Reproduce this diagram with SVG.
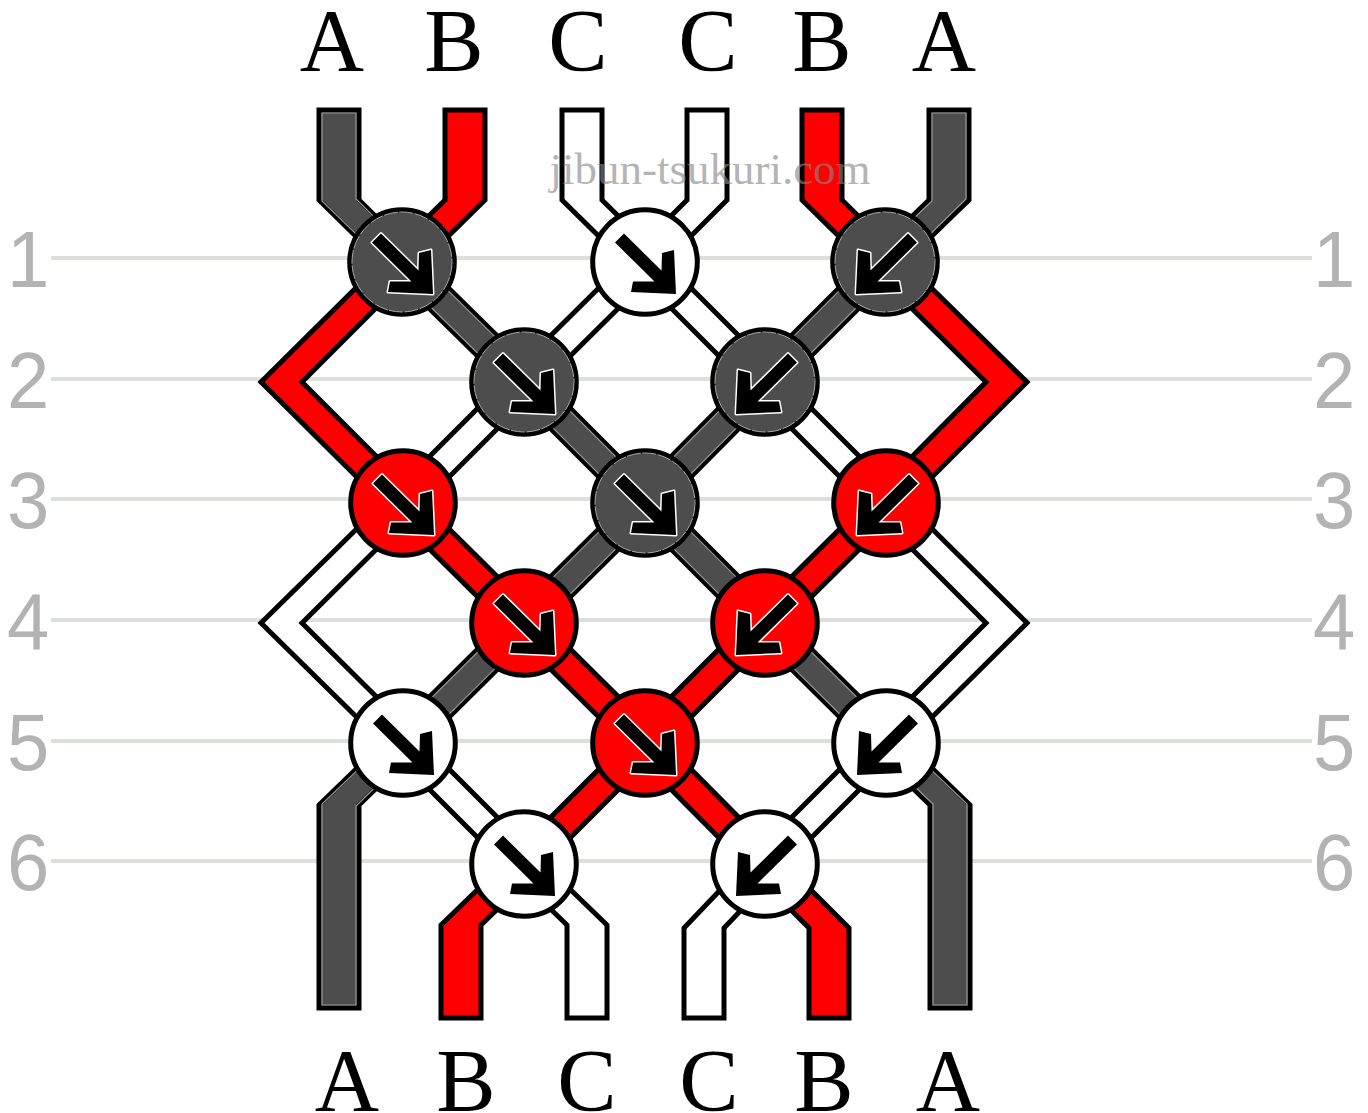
<svg xmlns="http://www.w3.org/2000/svg" width="1368" height="1113" viewBox="0 0 1368 1113">
<style>
.grid{stroke:#dce1d8;stroke-width:4;fill:none}
.s{stroke:#000;stroke-width:5;stroke-linejoin:miter;stroke-miterlimit:6}
.d{fill:#4d4d4d}.r{fill:#f00}.w{fill:#fff}
.in{fill:none;stroke:#999;stroke-width:1.2}
.c{stroke:#000;stroke-width:5}
.ring{fill:none;stroke:#aaa;stroke-width:1;stroke-dasharray:14 1.5}
.n{font-family:"Liberation Sans",Arial,sans-serif;font-size:80px;fill:#b3b3b3;text-anchor:middle}
.l{font-family:"Liberation Serif","Times New Roman",serif;font-size:89px;fill:#000;text-anchor:middle}
.wm{font-family:"Liberation Serif","Times New Roman",serif;font-size:45px;fill:#888;fill-opacity:.65;text-anchor:middle}
.arr{fill:#000;stroke:#fff;stroke-width:3;stroke-linejoin:round;paint-order:stroke}
</style>
<defs>
<polygon id="a" class="arr" points="-21,-28.5 -30,-19.5 9.5,19.5 -12,19.5 -14,30 31,32 29,-12 17,-9 16.5,8.5"/>
<circle id="cc" r="52.3"/>
</defs>
<g id="grid">
<path class="grid" d="M51 258H1312M51 379H1312M51 499H1312M51 620H1312M51 741H1312M51 861H1312"/>
</g>
<g id="connectors">
<polygon class="s d" points="319,110 319,200 382,262 504,382 625,503 745,623 866,743 930,805 930,1008 970,1008 970,805 906,743 785,623 665,503 544,382 422,262 359,200 359,110"/>
<polygon class="s r" points="445,110 445,200 382,262 261,382 383,503 504,623 625,743 745,864 809,928 809,1018 849,1018 849,928 785,864 665,743 544,623 423,503 302,382 422,262 485,200 485,110"/>
<polygon class="s w" points="562,110 562,200 625,262 745,382 866,503 986,623 866,743 745,864 684,928 684,1018 724,1018 724,928 785,864 906,743 1027,623 906,503 785,382 665,262 602,200 602,110"/>
<polygon class="s w" points="687,110 687,200 625,262 504,382 383,503 261,623 383,743 504,864 567,925 567,1018 607,1018 607,925 544,864 423,743 302,623 423,503 544,382 665,262 727,200 727,110"/>
<polygon class="s r" points="802,110 802,200 865,262 986,382 866,503 745,623 625,743 504,864 441,925 441,1018 481,1018 481,925 544,864 665,743 785,623 906,503 1027,382 905,262 842,200 842,110"/>
<polygon class="s d" points="929,110 929,200 865,262 745,382 625,503 504,623 383,743 319,805 319,1008 359,1008 359,805 423,743 544,623 665,503 785,382 905,262 969,200 969,110"/>
<polygon class="in" points="322,113 322,201 385,262 507,382 628,503 748,623 869,743 933,804 933,1005 967,1005 967,804 903,743 782,623 662,503 541,382 419,262 356,199 356,113"/>
<polygon class="in" points="932,113 932,201 868,262 748,382 628,503 507,623 386,743 322,804 322,1005 356,1005 356,806 420,743 541,623 662,503 782,382 902,262 966,199 966,113"/>
</g>
<g id="n1"><use href="#cc" x="402" y="262" class="c d"/><circle class="ring" cx="402" cy="262" r="50"/><use href="#a" transform="translate(402 262)"/></g>
<g id="n2"><use href="#cc" x="645" y="262" class="c w"/><use href="#a" transform="translate(645 262)"/></g>
<g id="n3"><use href="#cc" x="885" y="262" class="c d"/><circle class="ring" cx="885" cy="262" r="50"/><use href="#a" transform="translate(887 262) scale(-1 1)"/></g>
<g id="n4"><use href="#cc" x="524" y="382" class="c d"/><circle class="ring" cx="524" cy="382" r="50"/><use href="#a" transform="translate(524 382)"/></g>
<g id="n5"><use href="#cc" x="765" y="382" class="c d"/><circle class="ring" cx="765" cy="382" r="50"/><use href="#a" transform="translate(767 382) scale(-1 1)"/></g>
<g id="n6"><use href="#cc" x="403" y="503" class="c r"/><use href="#a" transform="translate(403 503)"/></g>
<g id="n7"><use href="#cc" x="645" y="503" class="c d"/><circle class="ring" cx="645" cy="503" r="50"/><use href="#a" transform="translate(645 503)"/></g>
<g id="n8"><use href="#cc" x="886" y="503" class="c r"/><use href="#a" transform="translate(888 503) scale(-1 1)"/></g>
<g id="n9"><use href="#cc" x="524" y="623" class="c r"/><use href="#a" transform="translate(524 623)"/></g>
<g id="n10"><use href="#cc" x="765" y="623" class="c r"/><use href="#a" transform="translate(767 623) scale(-1 1)"/></g>
<g id="n11"><use href="#cc" x="403" y="743" class="c w"/><use href="#a" transform="translate(403 743)"/></g>
<g id="n12"><use href="#cc" x="645" y="743" class="c r"/><use href="#a" transform="translate(645 743)"/></g>
<g id="n13"><use href="#cc" x="886" y="743" class="c w"/><use href="#a" transform="translate(888 743) scale(-1 1)"/></g>
<g id="n14"><use href="#cc" x="524" y="864" class="c w"/><use href="#a" transform="translate(524 864)"/></g>
<g id="n15"><use href="#cc" x="765" y="864" class="c w"/><use href="#a" transform="translate(767 864) scale(-1 1)"/></g>
<g id="labels">
<text class="l" x="332" y="70">A</text><text class="l" x="454" y="70">B</text><text class="l" x="578" y="70">C</text><text class="l" x="708" y="70">C</text><text class="l" x="822" y="70">B</text><text class="l" x="944" y="70">A</text>
<text class="l" x="347" y="1110">A</text><text class="l" x="466" y="1110">B</text><text class="l" x="587" y="1110">C</text><text class="l" x="709" y="1110">C</text><text class="l" x="824" y="1110">B</text><text class="l" x="948" y="1110">A</text>
<g transform="translate(28 0) scale(.95 1)"><text class="n" x="0" y="287">1</text><text class="n" x="0" y="408">2</text><text class="n" x="0" y="528">3</text><text class="n" x="0" y="649">4</text><text class="n" x="0" y="770">5</text><text class="n" x="0" y="890">6</text></g>
<g transform="translate(1334 0) scale(.95 1)"><text class="n" x="0" y="287">1</text><text class="n" x="0" y="408">2</text><text class="n" x="0" y="528">3</text><text class="n" x="0" y="649">4</text><text class="n" x="0" y="770">5</text><text class="n" x="0" y="890">6</text></g>
<text class="wm" x="710" y="184">jibun-tsukuri.com</text>
</g>
</svg>
